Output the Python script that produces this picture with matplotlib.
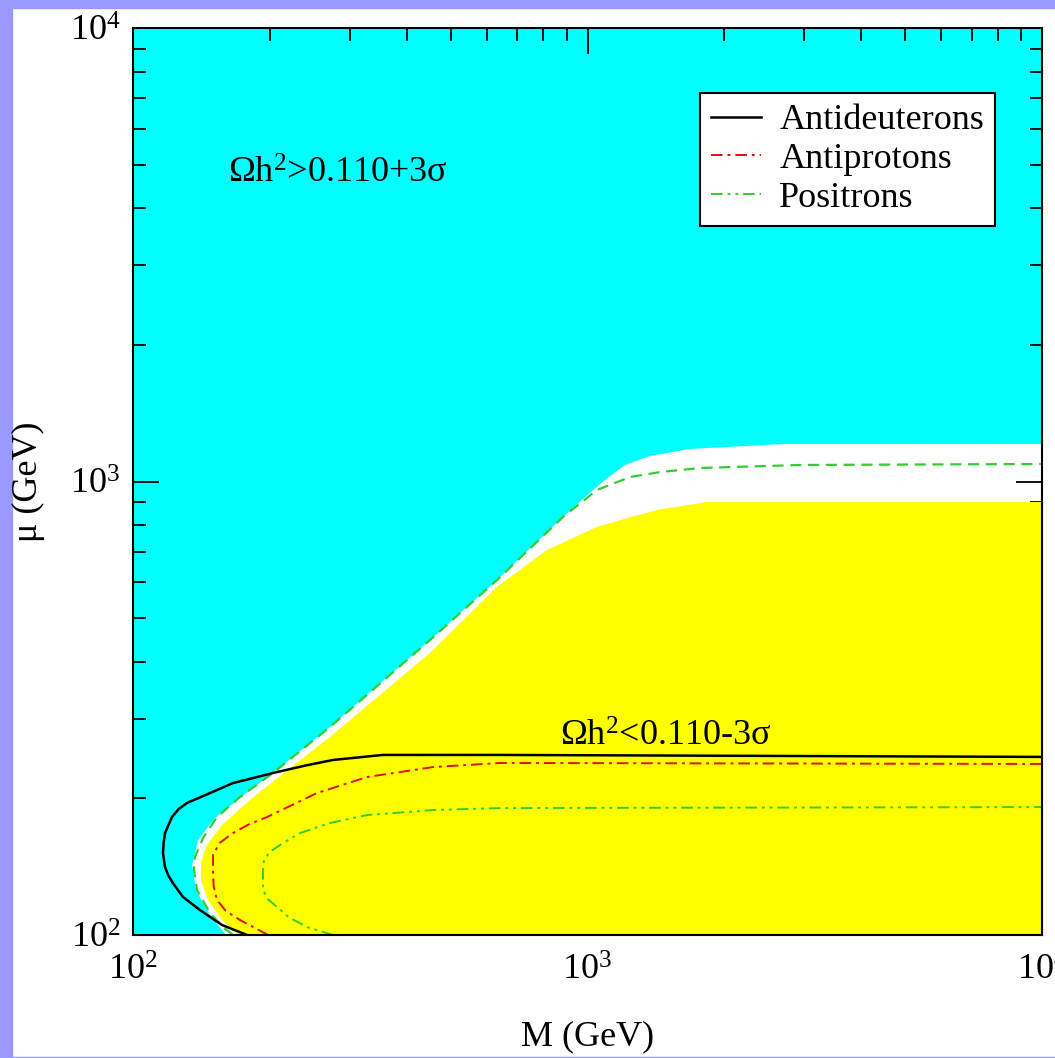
import matplotlib
matplotlib.use("Agg")
import matplotlib.pyplot as plt
from matplotlib.patches import Rectangle
import numpy as np

plt.rcParams['font.family'] = ['Liberation Serif', 'DejaVu Serif']
plt.rcParams['mathtext.fontset'] = 'custom'
plt.rcParams['mathtext.rm'] = 'Liberation Serif'
plt.rcParams['mathtext.it'] = 'Liberation Serif:italic'
plt.rcParams['mathtext.bf'] = 'Liberation Serif:bold'

# upper edge of the allowed (white) band, M and mu in GeV
band_top_M  = [160.2, 147.7, 137.6, 134.9, 139.0, 151.5, 180.9, 203.2, 271.3, 450.3, 632.3, 883.4, 987.4, 1093, 1209, 1373, 1681, 2692, 10000]
band_top_mu = [100, 110.7, 125.7, 142.7, 162.0, 181.1, 208.8, 227.6, 287.5, 447.2, 606.5, 835.3, 924.2, 1008, 1087.5, 1138.4, 1179.6, 1209.5, 1209.5]

# edge of the Oh^2 < 0.110-3sigma (yellow) region
low_M  = [170.2, 157.0, 146.2, 141.1, 141.1, 145.5, 157.0, 180.9, 210.6, 271.3, 450.3, 632.3, 814.5, 1049, 1259, 1444, 1832, 10000]
low_mu = [100, 107.9, 119.5, 132.2, 144.9, 157.9, 174.8, 198.5, 224.2, 273.3, 418.7, 585.6, 706.3, 793.6, 837.4, 867.6, 901.2, 901.2]

# green dashed contour along the band
dash_M  = [166.0, 157.8, 147.7, 138.3, 136.2, 136.9, 142.6, 153.0, 172.0, 203.2, 271.3, 450.3, 632.3, 883.4, 1049, 1240, 1444, 1768, 2935, 10000]
dash_mu = [100, 104.1, 111.8, 125.7, 139.1, 148.6, 163.7, 182.0, 201.5, 227.6, 287.5, 447.2, 606.5, 835.3, 957.9, 1023, 1049, 1071, 1087.5, 1093]

# sensitivity contours
dbar_M  = [178.2, 157.0, 140.4, 128.8, 122.4, 119.5, 117.6, 116.4, 116.8, 117.6, 121.8, 126.0, 131.5, 147.7, 166.0, 203.2, 240.0, 275.4, 354.8, 642, 10000]
dbar_mu = [100, 105.2, 113.5, 121.3, 130.2, 135.5, 141.2, 151.6, 160.0, 167.8, 182.0, 189.5, 195.5, 205.6, 216.3, 227.6, 236.5, 243.2, 249.5, 249.5, 247.0]

pbar_M  = [198.2, 172.0, 160.0, 153.0, 150.5, 150.0, 150.0, 155.0, 166.0, 180.0, 197.2, 254.0, 327.3, 457.0, 642, 10000]
pbar_mu = [100, 107.9, 113.0, 119.5, 128.0, 137.0, 150.1, 159.5, 167.8, 175.5, 182.0, 205.6, 223.0, 234.6, 239.5, 238.3]

pos_M  = [275.4, 241.5, 220.0, 207.4, 198.0, 193.2, 193.2, 194.2, 200.0, 210.6, 233.0, 271.3, 327.3, 457.0, 642, 10000]
pos_mu = [100, 104.1, 109.5, 115.3, 120.0, 125.7, 139.1, 146.3, 152.5, 157.9, 167.8, 176.6, 183.9, 188.6, 190.5, 191.5]

W, H = 1055, 1058
fig = plt.figure(figsize=(W / 100, H / 100), dpi=100)
fig.patch.set_facecolor('white')
lav = '#9999ff'
fig.patches.append(Rectangle((0, 0), 12 / W, 1, transform=fig.transFigure, color=lav, zorder=-1))
fig.patches.append(Rectangle((0, 1 - 8 / H), 1, 8 / H, transform=fig.transFigure, color=lav, zorder=-1))
fig.patches.append(Rectangle((0, 0), 1, 1.5 / H, transform=fig.transFigure, color=lav, zorder=-1))

ax = fig.add_axes([133 / W, 1 - 935 / H, 909 / W, 907 / H])
ax.set_xscale('log')
ax.set_yscale('log')
ax.set_xlim(100, 10000)
ax.set_ylim(100, 10000)
ax.set_facecolor('#00ffff')

ax.fill(band_top_M + [10000, 10000], band_top_mu + [100, 100], color='white', lw=0, zorder=1)
ax.fill(low_M + [10000], low_mu + [100], color='#ffff00', lw=0, zorder=2)

ax.plot(dash_M, dash_mu, color='#33cc33', lw=1.6, ls=(0, (5, 3)), zorder=3)
ax.plot(dbar_M, dbar_mu, color='black', lw=1.8, zorder=4, label='Antideuterons')
ax.plot(pbar_M, pbar_mu, color='#dd1111', lw=1.4, ls=(0, (6, 2.5, 1.5, 2.5)), zorder=4, label='Antiprotons')
ax.plot(pos_M, pos_mu, color='#33cc33', lw=1.4, ls=(0, (6, 2.5, 1.5, 2.5, 1.5, 2.5)), zorder=4, label='Positrons')

ax.text(161.8, 4551, 'Ωh$^{2}$>0.110+3σ', fontsize=26, ha='left', va='baseline', zorder=5)
ax.text(870, 261, 'Ωh$^{2}$<0.110-3σ', fontsize=26, ha='left', va='baseline', zorder=5)

leg = ax.legend(loc='upper right', bbox_to_anchor=(0.948, 0.928), borderaxespad=0,
                fontsize=26, frameon=True, fancybox=False, framealpha=1,
                edgecolor='black', handlelength=1.4, handletextpad=0.5,
                labelspacing=0.15, borderpad=0.3)
leg.get_frame().set_linewidth(1.5)
leg.set_zorder(6)

for s in ax.spines.values():
    s.set_linewidth(1.5)
    s.set_zorder(7)
ax.tick_params(which='both', direction='in', top=True, right=True, width=1.3, labelsize=26)
ax.tick_params(which='major', length=19)
ax.tick_params(which='minor', length=9)
ax.tick_params(axis='y', pad=9)
ax.tick_params(axis='x', pad=14)
ax.xaxis.set_minor_formatter(matplotlib.ticker.NullFormatter())
ax.yaxis.set_minor_formatter(matplotlib.ticker.NullFormatter())

ax.set_xlabel('M (GeV)', fontsize=26)
ax.xaxis.set_label_coords(0.5, -0.094)
ax.set_ylabel('μ (GeV)', fontsize=26)
ax.yaxis.set_label_coords(-0.097, 0.5)

fig.savefig('out.png', dpi=100)
